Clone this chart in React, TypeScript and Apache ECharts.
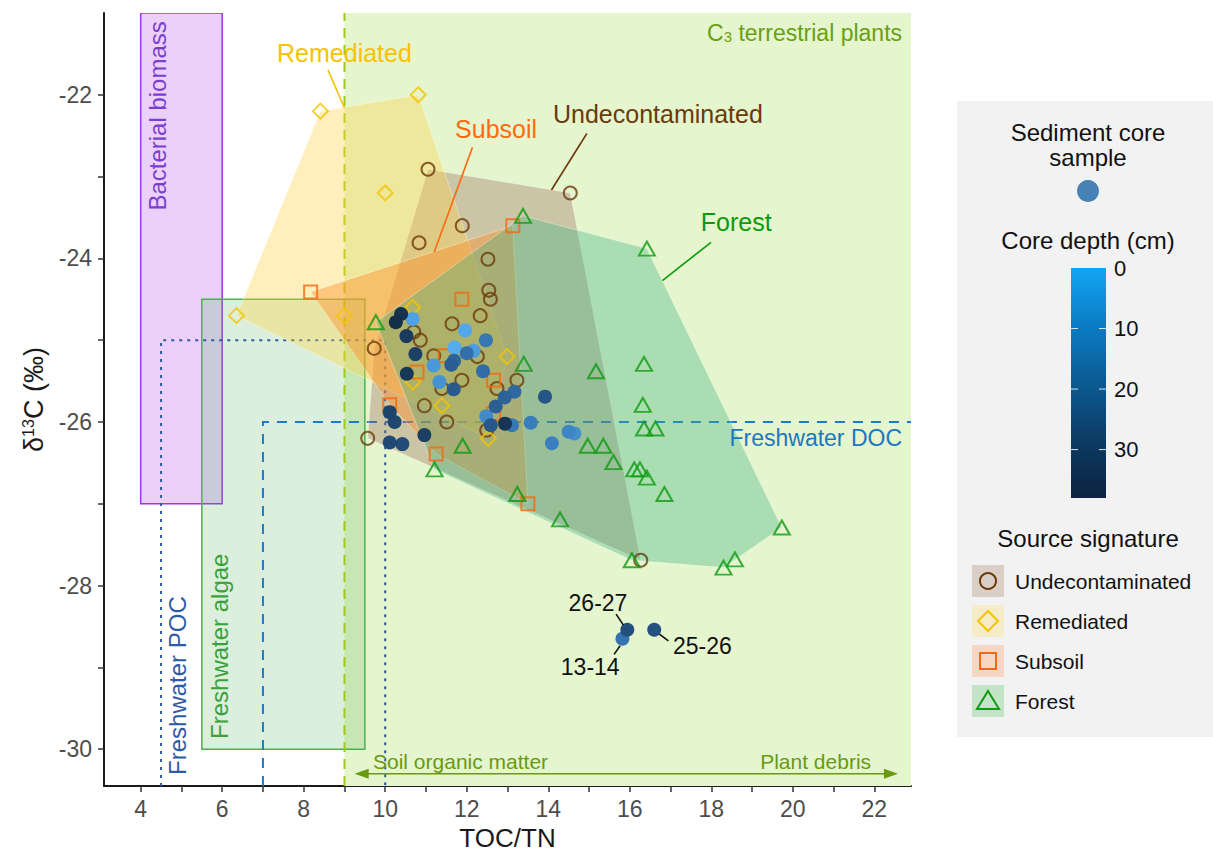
import React, { useEffect, useRef } from "react";
import * as echarts from "echarts";

const FONT = '"Liberation Sans", Arial, Helvetica, sans-serif';
const X_MIN = 3.1;
const X_MAX = 22.9;
const Y_MIN = -30.45;
const Y_MAX = -21.0;

const xTickValues = [4, 5, 6, 7, 8, 9, 10, 11, 12, 13, 14, 15, 16, 17, 18, 19, 20, 21, 22];
const xLabelValues = [4, 6, 8, 10, 12, 14, 16, 18, 20, 22];
const yTickValues = [-30, -29, -28, -27, -26, -25, -24, -23, -22];
const yLabelValues = [-30, -28, -26, -24, -22];
const depthTickValues = [0, 10, 20, 30];
const DEPTH_MAX = 38;

// Source signature samples: [TOC/TN, d13C]
const undecontaminated = [
  [11.05, -22.91], [14.54, -23.2], [11.89, -23.6], [10.83, -23.81], [12.52, -24.01],
  [12.54, -24.39], [12.58, -24.5], [12.33, -24.7], [11.64, -24.8], [10.7, -24.9],
  [10.86, -25.0], [9.73, -25.1], [11.19, -25.19], [12.26, -25.2], [11.88, -25.49],
  [11.39, -25.59], [13.23, -25.49], [12.74, -25.59], [10.96, -25.8], [11.51, -26.0],
  [12.49, -26.1], [9.57, -26.2], [16.27, -27.69],
];
const remediated = [
  [8.41, -22.2], [10.81, -22.0], [10.0, -23.2], [6.35, -24.7], [9.0, -24.7],
  [10.67, -24.6], [12.99, -25.2], [10.68, -25.51], [11.39, -25.8], [12.53, -26.2],
];
const subsoil = [
  [8.17, -24.41], [13.13, -23.6], [11.88, -24.5], [11.47, -25.19], [10.78, -25.39],
  [12.66, -25.49], [12.66, -25.9], [10.11, -25.79], [11.25, -26.39], [13.5, -27.0],
];
const forest = [
  [13.38, -23.48], [16.42, -23.88], [9.77, -24.78], [13.4, -25.29], [15.17, -25.38],
  [16.35, -25.29], [16.32, -25.79], [16.35, -26.08], [16.63, -26.08], [14.97, -26.29],
  [15.35, -26.29], [15.6, -26.49], [16.11, -26.58], [16.25, -26.58], [16.42, -26.68],
  [16.85, -26.88], [13.24, -26.88], [14.29, -27.19], [16.05, -27.69], [19.73, -27.29],
  [18.3, -27.78], [18.58, -27.68], [11.9, -26.29], [11.21, -26.58],
];

// Sediment core samples: [TOC/TN, d13C, depth (cm, interval midpoint)]
const sediment = [
  [11.7, -25.09, 0.5], [11.96, -24.88, 1.5], [10.67, -24.74, 2.5], [12.17, -25.13, 3.5],
  [11.19, -25.31, 4.5], [11.33, -25.51, 5.5], [14.64, -26.14, 6.5], [12.48, -25.93, 7.5],
  [14.5, -26.12, 8.5], [14.09, -26.26, 9.5], [13.57, -26.01, 10.5], [13.11, -26.04, 11.5],
  [12.47, -25.0, 12.5], [15.82, -28.65, 13.5], [12.0, -25.16, 14.5], [12.4, -25.38, 15.5],
  [13.17, -25.63, 16.5], [11.69, -25.25, 17.5], [12.93, -25.7, 18.5], [12.71, -25.81, 19.5],
  [11.62, -25.3, 20.5], [11.68, -25.6, 21.5], [12.59, -26.04, 22.5], [13.92, -25.69, 23.5],
  [16.6, -28.54, 25.5], [15.94, -28.54, 26.5], [10.42, -26.27, 27.5], [10.11, -26.25, 28.5],
  [10.23, -26.0, 29.5], [10.11, -25.88, 30.5], [10.74, -25.17, 31.5], [10.96, -26.16, 32.5],
  [10.52, -24.95, 33.5], [10.53, -25.41, 34.5], [12.94, -26.02, 35.5], [10.39, -24.68, 36.5],
  [10.26, -24.78, 37.5],
];

const sourceNames = ["Undecontaminated", "Remediated", "Subsoil", "Forest"];
const sourceData = [undecontaminated, remediated, subsoil, forest];
const sourceStroke = ["#6b3a0b", "#f5c400", "#f4690f", "#0f9a12"];
const sourceHullFill = [
  "rgba(150, 95, 85, 0.32)",
  "rgba(255, 210, 70, 0.36)",
  "rgba(255, 140, 40, 0.42)",
  "rgba(60, 180, 130, 0.35)",
];
const sourceKeyFill = ["#d9cfc6", "#f6ecc8", "#f8d6c4", "#c4e4c8"];
const sourceSymbol = ["circle", "diamond", "rect", "triangle"];
const sourceSymbolSize: any[] = [13, 15, 13, [16, 14]];

const dotColors = ["#56aef0", "#3a80c0", "#2c6096", "#204a74", "#142d48"];
const colorbarColors = ["#12a5f4", "#0a7cc4", "#0b5b93", "#0d3b63", "#0c2240"];

// Reference regions [x0, x1, y0, y1]
const regions = [
  { name: "C3 terrestrial plants", box: [9, X_MAX, Y_MIN, Y_MAX], fill: "#e5f5cd", stroke: null },
  { name: "Bacterial biomass", box: [4, 6, -27, Y_MAX], fill: "#ebd1fa", stroke: "#a033ee" },
  { name: "Freshwater algae", box: [5.5, 9.5, -30, -24.5], fill: "rgba(76,175,80,0.2)", stroke: "#4cb050" },
];
const refLines = [
  { pts: [[4.5, Y_MIN], [4.5, -25], [10, -25], [10, Y_MIN]], color: "#2c5aa0", dash: [3, 5] },
  { pts: [[7, Y_MIN], [7, -26], [X_MAX, -26]], color: "#1f7ac8", dash: [10, 8] },
  { pts: [[9, Y_MIN], [9, Y_MAX]], color: "#a2c916", dash: [10, 7] },
];

const annotations: any[] = [
  { text: "Remediated", x: 9.0, y: -21.49, color: "#f7c200", size: 25, align: "center" },
  { text: "Subsoil", x: 12.72, y: -22.415, color: "#ff6a10", size: 25, align: "center" },
  { text: "Undecontaminated", x: 16.69, y: -22.23, color: "#6b3a0b", size: 25, align: "center" },
  { text: "Forest", x: 18.61, y: -23.56, color: "#0a9a0a", size: 25, align: "center" },
  { text: "C{sub|3} terrestrial plants", x: 22.68, y: -21.243, color: "#6aa012", size: 23, align: "right", sub: true },
  { text: "Freshwater DOC", x: 22.68, y: -26.2, color: "#1c78c4", size: 23, align: "right" },
  { text: "Soil organic matter", x: 9.7, y: -30.156, color: "#6a9a10", size: 21, align: "left" },
  { text: "Plant debris", x: 21.92, y: -30.156, color: "#6a9a10", size: 21, align: "right" },
  { text: "Bacterial biomass", x: 4.41, y: -21.1, color: "#7b3fd0", size: 24, align: "right", rotate: true },
  { text: "Freshwater algae", x: 5.93, y: -29.875, color: "#3ba13b", size: 24, align: "left", rotate: true },
  { text: "Freshwater POC", x: 4.9, y: -30.315, color: "#2e5aa8", size: 24, align: "left", rotate: true },
  { text: "26-27", x: 15.22, y: -28.215, color: "#111", size: 23, align: "center" },
  { text: "13-14", x: 15.03, y: -29.0, color: "#111", size: 23, align: "center" },
  { text: "25-26", x: 17.78, y: -28.74, color: "#111", size: 23, align: "center" },
];
const leaderLines = [
  { seg: [8.595, -21.695, 9.0, -22.162], color: "#f7c200" },
  { seg: [12.14, -22.643, 11.2, -23.926], color: "#ff6a10" },
  { seg: [14.947, -22.473, 14.078, -23.164], color: "#6b3a0b" },
  { seg: [17.995, -23.803, 16.8, -24.271], color: "#0a9a0a" },
  { seg: [15.665, -28.349, 15.844, -28.484], color: "#111" },
  { seg: [15.616, -28.841, 15.763, -28.736], color: "#111" },
  { seg: [16.727, -28.593, 16.948, -28.675], color: "#111" },
];
const sourceArrow = [9.25, 22.58, -30.3];

function convexHull(points: number[][]) {
  const p = [...points].sort((a, b) => a[0] - b[0] || a[1] - b[1]);
  const cross = (o: number[], a: number[], b: number[]) =>
    (a[0] - o[0]) * (b[1] - o[1]) - (a[1] - o[1]) * (b[0] - o[0]);
  const lower: number[][] = [];
  for (const q of p) {
    while (lower.length >= 2 && cross(lower[lower.length - 2], lower[lower.length - 1], q) <= 0) lower.pop();
    lower.push(q);
  }
  const upper: number[][] = [];
  for (let i = p.length - 1; i >= 0; i--) {
    const q = p[i];
    while (upper.length >= 2 && cross(upper[upper.length - 2], upper[upper.length - 1], q) <= 0) upper.pop();
    upper.push(q);
  }
  upper.pop();
  lower.pop();
  return lower.concat(upper);
}

function buildOption() {
  const series: any[] = [];

  series.push({
    type: "custom",
    name: "regions",
    z: 1,
    silent: true,
    clip: true,
    data: regions.map((r) => [(r.box[0] + r.box[1]) / 2, (r.box[2] + r.box[3]) / 2]),
    renderItem: (params: any, api: any) => {
      const r = regions[params.dataIndex];
      const p0 = api.coord([r.box[0], r.box[3]]);
      const p1 = api.coord([r.box[1], r.box[2]]);
      return {
        type: "rect",
        shape: { x: p0[0], y: p0[1], width: p1[0] - p0[0], height: p1[1] - p0[1] },
        style: { fill: r.fill, stroke: r.stroke || "none", lineWidth: r.stroke ? 1.5 : 0 },
      };
    },
  });

  series.push({
    type: "custom",
    name: "reference lines",
    z: 2,
    silent: true,
    clip: true,
    data: refLines.map((l) => [l.pts[1][0], l.pts[1][1]]),
    renderItem: (params: any, api: any) => {
      const l = refLines[params.dataIndex];
      return {
        type: "polyline",
        shape: { points: l.pts.map((p) => api.coord(p)) },
        style: { stroke: l.color, lineWidth: 2, lineDash: l.dash, fill: "none" },
      };
    },
  });

  sourceData.forEach((pts, i) => {
    const hull = convexHull(pts);
    series.push({
      type: "custom",
      name: sourceNames[i] + " hull",
      z: 3,
      silent: true,
      data: [hull[0]],
      renderItem: (params: any, api: any) => ({
        type: "polygon",
        shape: { points: hull.map((p) => api.coord(p)) },
        style: { fill: sourceHullFill[i], stroke: "rgba(255,255,255,0.45)", lineWidth: 0.8 },
      }),
    });
  });

  sourceData.forEach((pts, i) => {
    series.push({
      type: "scatter",
      name: sourceNames[i],
      z: 4,
      symbol: sourceSymbol[i],
      symbolSize: sourceSymbolSize[i],
      data: pts,
      itemStyle: { color: "rgba(0,0,0,0)", borderColor: sourceStroke[i], borderWidth: 2 },
    });
  });

  const dotIndex = series.length;
  series.push({
    type: "scatter",
    name: "Sediment core sample",
    z: 5,
    symbol: "circle",
    symbolSize: 14,
    data: sediment,
    itemStyle: { opacity: 1 },
  });

  series.push({
    type: "custom",
    name: "leaders",
    z: 6,
    silent: true,
    data: leaderLines.map((l) => [l.seg[0], l.seg[1]]),
    renderItem: (params: any, api: any) => {
      const l = leaderLines[params.dataIndex];
      const a = api.coord([l.seg[0], l.seg[1]]);
      const b = api.coord([l.seg[2], l.seg[3]]);
      return {
        type: "line",
        shape: { x1: a[0], y1: a[1], x2: b[0], y2: b[1] },
        style: { stroke: l.color, lineWidth: 1.6 },
      };
    },
  });

  series.push({
    type: "custom",
    name: "arrow",
    z: 6,
    silent: true,
    data: [[(sourceArrow[0] + sourceArrow[1]) / 2, sourceArrow[2]]],
    renderItem: (params: any, api: any) => {
      const a = api.coord([sourceArrow[0], sourceArrow[2]]);
      const b = api.coord([sourceArrow[1], sourceArrow[2]]);
      const c = "#6a9a10";
      const L = 14, W = 5;
      return {
        type: "group",
        children: [
          { type: "line", shape: { x1: a[0] + 4, y1: a[1], x2: b[0] - 4, y2: b[1] }, style: { stroke: c, lineWidth: 1.6 } },
          { type: "polygon", shape: { points: [[a[0], a[1]], [a[0] + L, a[1] - W], [a[0] + L, a[1] + W]] }, style: { fill: c } },
          { type: "polygon", shape: { points: [[b[0], b[1]], [b[0] - L, b[1] - W], [b[0] - L, b[1] + W]] }, style: { fill: c } },
        ],
      };
    },
  });

  series.push({
    type: "custom",
    name: "annotations",
    z: 7,
    silent: true,
    data: annotations.map((a) => [a.x, a.y]),
    renderItem: (params: any, api: any) => {
      const a = annotations[params.dataIndex];
      const p = api.coord([a.x, a.y]);
      const style: any = {
        text: a.text,
        fill: a.color,
        fontSize: a.size,
        fontFamily: FONT,
        align: a.align,
        verticalAlign: "middle",
      };
      if (a.sub) {
        style.rich = { sub: { fontSize: 15, fill: a.color, fontFamily: FONT, verticalAlign: "bottom", padding: [8, 0, 0, 0] } };
      }
      return { type: "text", x: p[0], y: p[1], rotation: a.rotate ? Math.PI / 2 : 0, style };
    },
  });

  // Legend panel
  const panelX = 957, panelY = 101, cx = 1088;
  const barX = 1071, barY = 268, barW = 35, barH = 230;
  const titleStyle = { fontSize: 24, fontFamily: FONT, fill: "#111", align: "center", verticalAlign: "middle" };
  const graphic: any[] = [
    { type: "rect", left: panelX, top: panelY, shape: { width: 1213 - panelX, height: 636 }, style: { fill: "#f2f2f2" }, z: 0 },
    { type: "text", x: cx, y: 132, style: { ...titleStyle, text: "Sediment core" } },
    { type: "text", x: cx, y: 157, style: { ...titleStyle, text: "sample" } },
    { type: "circle", shape: { cx, cy: 191, r: 11 }, style: { fill: "#4682b4" } },
    { type: "text", x: cx, y: 240, style: { ...titleStyle, text: "Core depth (cm)" } },
    {
      type: "rect",
      shape: { x: barX, y: barY, width: barW, height: barH },
      style: {
        fill: new echarts.graphic.LinearGradient(0, 0, 0, 1,
          colorbarColors.map((c, i) => ({ offset: i / (colorbarColors.length - 1), color: c }))),
      },
    },
    { type: "text", x: cx, y: 538, style: { ...titleStyle, text: "Source signature" } },
  ];
  depthTickValues.forEach((d) => {
    const y = barY + (d / DEPTH_MAX) * barH;
    if (d > 0) {
      graphic.push({ type: "line", shape: { x1: barX, y1: y, x2: barX + 7, y2: y }, style: { stroke: "#d8e6f0", lineWidth: 1 } });
      graphic.push({ type: "line", shape: { x1: barX + barW - 7, y1: y, x2: barX + barW, y2: y }, style: { stroke: "#d8e6f0", lineWidth: 1 } });
    }
    graphic.push({ type: "text", x: barX + barW + 8, y, style: { text: String(d), fontSize: 22, fontFamily: FONT, fill: "#111", align: "left", verticalAlign: "middle" } });
  });
  sourceNames.forEach((n, i) => {
    const ky = 581 + i * 40;
    const kx = 988;
    graphic.push({ type: "rect", shape: { x: kx - 16, y: ky - 16, width: 32, height: 32 }, style: { fill: sourceKeyFill[i] } });
    const st = { fill: "none", stroke: sourceStroke[i], lineWidth: 2 };
    if (sourceSymbol[i] === "circle") graphic.push({ type: "circle", shape: { cx: kx, cy: ky, r: 8 }, style: st });
    if (sourceSymbol[i] === "diamond") graphic.push({ type: "polygon", shape: { points: [[kx, ky - 10], [kx + 10, ky], [kx, ky + 10], [kx - 10, ky]] }, style: st });
    if (sourceSymbol[i] === "rect") graphic.push({ type: "rect", shape: { x: kx - 8, y: ky - 8, width: 16, height: 16 }, style: st });
    if (sourceSymbol[i] === "triangle") graphic.push({ type: "polygon", shape: { points: [[kx, ky - 10], [kx + 11, ky + 8], [kx - 11, ky + 8]] }, style: st });
    graphic.push({ type: "text", x: 1015, y: ky, style: { text: n, fontSize: 21, fontFamily: FONT, fill: "#111", align: "left", verticalAlign: "middle" } });
  });

  return {
    animation: false,
    backgroundColor: "#ffffff",
    grid: { left: 104, right: 302, top: 13, bottom: 67, containLabel: false, outerBoundsMode: "none" },
    xAxis: {
      type: "value",
      min: X_MIN,
      max: X_MAX,
      name: "TOC/TN",
      nameLocation: "middle",
      nameGap: 38,
      nameTextStyle: { fontSize: 26, color: "#1a1a1a", fontFamily: FONT },
      axisLine: { show: true, onZero: false, lineStyle: { color: "#1a1a1a", width: 2 } },
      axisTick: { show: true, customValues: xTickValues, length: 6, lineStyle: { color: "#333", width: 1.5 } },
      axisLabel: { customValues: xLabelValues, fontSize: 23, color: "#4d4d4d", margin: 11, fontFamily: FONT },
      splitLine: { show: false },
    },
    yAxis: {
      type: "value",
      min: Y_MIN,
      max: Y_MAX,
      name: "δ{sup|13}C (‰)",
      nameLocation: "middle",
      nameGap: 49,
      nameRotate: 90,
      nameTextStyle: {
        fontSize: 27,
        color: "#1a1a1a",
        fontFamily: FONT,
        rich: { sup: { fontSize: 16, color: "#1a1a1a", fontFamily: FONT, verticalAlign: "top", padding: [0, 0, 10, 0] } },
      },
      axisLine: { show: true, onZero: false, lineStyle: { color: "#1a1a1a", width: 2 } },
      axisTick: { show: true, customValues: yTickValues, length: 6, lineStyle: { color: "#333", width: 1.5 } },
      axisLabel: { customValues: yLabelValues, fontSize: 23, color: "#4d4d4d", margin: 12, fontFamily: FONT },
      splitLine: { show: false },
    },
    visualMap: [
      {
        type: "continuous",
        show: false,
        seriesIndex: dotIndex,
        dimension: 2,
        min: 0,
        max: DEPTH_MAX,
        inRange: { color: dotColors },
      },
    ],
    graphic,
    series,
  };
}

export default function App() {
  const ref = useRef<HTMLDivElement>(null);
  useEffect(() => {
    if (!ref.current) return;
    const chart = echarts.init(ref.current, null, { renderer: "svg" });
    chart.setOption(buildOption() as any);
    return () => chart.dispose();
  }, []);
  return (
    <div
      ref={ref}
      style={{ position: "absolute", left: 0, top: 0, width: 1213, height: 853, background: "#fff" }}
    />
  );
}
